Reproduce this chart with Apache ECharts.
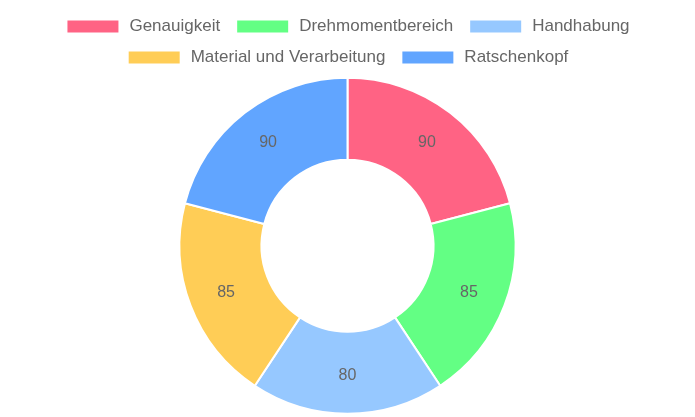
<!DOCTYPE html>
<html><head><meta charset="utf-8">
<script src="https://cdn.jsdelivr.net/npm/echarts@6/dist/echarts.min.js"></script>
<style>html,body{margin:0;padding:0;background:#fff}#c{width:695px;height:417px}</style>
</head><body><div id="c"></div>
<script>
const categories = ["Genauigkeit", "Drehmomentbereich", "Handhabung", "Material und Verarbeitung", "Ratschenkopf"];
const values = [90, 85, 80, 85, 90];
const colors = ["#ff6384", "#63ff84", "#96c8ff", "#ffcd56", "#61a5ff"];
const legendRow1 = categories.slice(0, 3);
const legendRow2 = categories.slice(3);

const chart = echarts.init(document.getElementById('c'));
const legendBase = {
  orient: 'horizontal', left: 'center', itemWidth: 53, itemHeight: 14, itemGap: 15,
  icon: 'rect',
  textStyle: { color: '#666', fontSize: 17, padding: [0, 0, 0, 5], fontFamily: 'Liberation Sans, Arial, sans-serif' },
  selectedMode: false
};
chart.setOption({
  animation: false,
  color: colors,
  legend: [
    Object.assign({}, legendBase, { top: 13, data: legendRow1 }),
    Object.assign({}, legendBase, { top: 44, data: legendRow2 })
  ],
  series: [{
    type: 'pie',
    center: [347.5, 245.7],
    radius: [86, 168],
    startAngle: 90,
    clockwise: true,
    itemStyle: { borderColor: '#fff', borderWidth: 2 },
    label: { show: true, position: 'inside', color: '#666', fontSize: 16, lineHeight: 16, padding: [3, 0, 0, 0], fontFamily: 'Liberation Sans, Arial, sans-serif', formatter: '{c}' },
    labelLine: { show: false },
    emphasis: { disabled: true },
    data: categories.map((n, i) => ({ name: n, value: values[i] }))
  }]
});
</script></body></html>
